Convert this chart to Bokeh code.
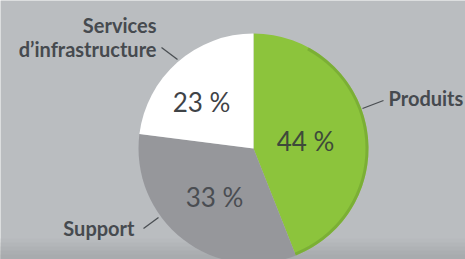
import numpy as np
from bokeh.plotting import figure
from bokeh.models import Range1d, ColumnDataSource
from bokeh.core.properties import value
from bokeh.embed import file_html
from bokeh.resources import INLINE

# ---- data ----
categories = ["Produits", "Support", "Services\nd\u2019infrastructure"]
shares = [44, 33, 23]
pct_labels = ["44 %", "33 %", "23 %"]
colors = ["#8cc43c", "#96979b", "#ffffff"]

H = 259
W = 465

def Y(y):
    return H - y

p = figure(width=W, height=H, output_backend="svg", toolbar_location=None,
           x_range=Range1d(0, W), y_range=Range1d(0, H),
           min_border=0)
p.axis.visible = False
p.grid.visible = False
p.outline_line_color = None
p.background_fill_color = "#babdc0"
p.border_fill_color = "#babdc0"

# bottom darker band (gradient approximation)
band_cols = ["#b7babd", "#b3b6b9", "#afb2b5", "#abaeb1", "#a8abae"]
for i, c in enumerate(band_cols):
    p.quad(left=0, right=W, top=Y(238 + i * 4), bottom=Y(H), fill_color=c, line_color=None)

cx, cy, r = 253, Y(148), 115

fr = np.array(shares) / sum(shares)
cum = np.concatenate([[0], np.cumsum(fr)])
start = np.pi / 2 - 2 * np.pi * cum[:-1]
end = np.pi / 2 - 2 * np.pi * cum[1:]

src = ColumnDataSource(dict(start=start, end=end, color=colors, cat=categories))
p.wedge(x=cx, y=cy, radius=r, start_angle="start", end_angle="end",
        direction="clock", fill_color="color", line_color=None, source=src)

# darker rim on green slice
p.annular_wedge(x=cx, y=cy, inner_radius=r - 3, outer_radius=r, start_angle=start[0] - 0.5,
                end_angle=end[0], direction="clock", fill_color="#6e9f30",
                fill_alpha=0.55, line_color=None)

# percentage labels
pct_pos = [(305, 140), (214, 196), (201, 101)]
pct_cols = ["#3e4a3a", "#4a4d52", "#3f4347"]
p.text(x=[q[0] for q in pct_pos], y=[Y(q[1]) for q in pct_pos], text=pct_labels,
       text_color=pct_cols, text_font=value("Lato"), text_font_size="26px",
       text_align="center", text_baseline="middle")

# category labels
lab_font = value("Lato")
p.text(x=[388], y=[Y(97)], text=[categories[0]], text_font=lab_font,
       text_font_style="bold", text_font_size="20px", text_color="#464a4f",
       text_align="left", text_baseline="middle")
p.text(x=[134], y=[Y(227)], text=[categories[1]], text_font=lab_font,
       text_font_style="bold", text_font_size="20px", text_color="#464a4f",
       text_align="right", text_baseline="middle")
p.text(x=[156], y=[Y(36)], text=[categories[2]], text_font=lab_font,
       text_font_style="bold", text_font_size="20px", text_color="#464a4f",
       text_align="right", text_baseline="middle", text_line_height=1.0)

# leader lines
p.segment(x0=[362, 143, 161], y0=[Y(108), Y(228), Y(47)],
          x1=[383, 158, 177], y1=[Y(100), Y(217), Y(59)],
          line_color="#4a4e52", line_width=1.3)

open("out.html", "w").write(file_html(p, INLINE))
